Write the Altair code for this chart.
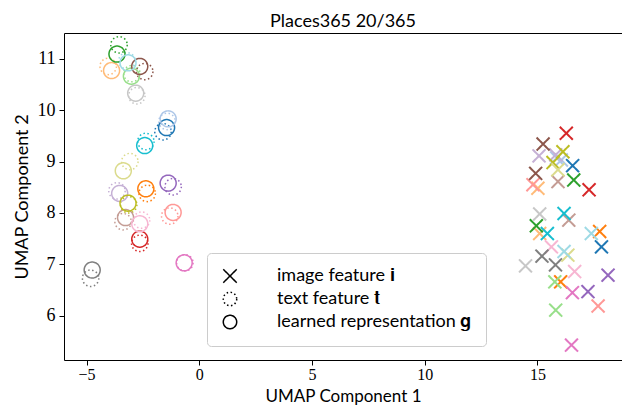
import altair as alt
import pandas as pd

colors = ["#1f77b4", "#aec7e8", "#ff7f0e", "#ffbb78", "#2ca02c", "#98df8a",
          "#d62728", "#ff9896", "#9467bd", "#c5b0d5", "#8c564b", "#c49c94",
          "#e377c2", "#f7b6d2", "#7f7f7f", "#c7c7c7", "#bcbd22", "#dbdb8d",
          "#17becf", "#9edae5"]
classes = [f"class{i}" for i in range(20)]

img_a_x = [16.56, 16.06, 17.76, 15.02, 16.61, 15.77, 16.28, 14.80, 18.13, 15.07,
           15.25, 15.91, 16.55, 15.62, 15.20, 15.10, 16.13, 15.91, 16.18, 17.39]
img_a_y = [8.92, 9.03, 7.64, 8.48, 8.64, 6.66, 9.55, 8.55, 6.79, 9.11,
           9.34, 8.61, 6.45, 7.34, 7.16, 7.98, 9.19, 8.84, 7.99, 7.60]
img_b_x = [17.84, 15.85, 16.03, 15.10, 14.95, 15.81, 17.29, 17.69, 17.24, 15.81,
           14.92, 16.39, 16.51, 16.65, 15.80, 14.47, 15.69, 16.35, 15.44, 16.18]
img_b_y = [7.34, 9.07, 6.66, 7.60, 7.75, 6.11, 8.45, 6.19, 6.47, 9.13,
           8.77, 7.86, 5.43, 6.86, 6.99, 6.97, 8.98, 7.18, 7.60, 7.25]
txt_x = [-1.61, -1.43, -2.31, -4.04, -3.56, -2.99, -2.64, -1.31, -1.16, -3.65,
         -2.42, -3.38, -0.64, -2.56, -4.82, -2.77, -3.13, -3.08, -2.37, -3.21]
txt_y = [9.58, 9.78, 8.38, 10.85, 11.27, 10.71, 7.41, 7.94, 8.51, 8.43,
         10.75, 7.83, 7.03, 7.86, 6.73, 10.28, 8.16, 9.00, 9.39, 10.96]
rep_x = [-1.45, -1.38, -2.37, -3.89, -3.65, -3.01, -2.64, -1.16, -1.38, -3.53,
         -2.64, -3.27, -0.67, -2.64, -4.75, -2.82, -3.16, -3.37, -2.42, -3.16]
rep_y = [9.66, 9.83, 8.47, 10.77, 11.09, 10.66, 7.49, 8.01, 8.58, 8.38,
         10.85, 7.91, 7.03, 7.79, 6.89, 10.33, 8.19, 8.82, 9.31, 10.92]

types = ["image feature 𝐢", "text feature 𝐭", "learned representation 𝐠"]
x_path = "M-1,-1L1,1M-1,1L1,-1"

rows = []
for i, c in enumerate(classes):
    rows.append({"cls": c, "type": types[0], "x": img_a_x[i], "y": img_a_y[i]})
    rows.append({"cls": c, "type": types[0], "x": img_b_x[i], "y": img_b_y[i]})
for i, c in enumerate(classes):
    rows.append({"cls": c, "type": types[1], "x": txt_x[i], "y": txt_y[i]})
    rows.append({"cls": c, "type": types[2], "x": rep_x[i], "y": rep_y[i]})
df = pd.DataFrame(rows)

legend = alt.Legend(title=None, orient="none", legendX=143, legendY=220)

base = alt.Chart(df).encode(
    x=alt.X("x:Q", scale=alt.Scale(domain=[-6.0, 18.75], nice=False, zero=False),
            axis=alt.Axis(values=[-5, 0, 5, 10, 15], title="UMAP Component 1")),
    y=alt.Y("y:Q", scale=alt.Scale(domain=[5.14, 11.5], nice=False, zero=False),
            axis=alt.Axis(values=[6, 7, 8, 9, 10, 11], title="UMAP Component 2")),
    color=alt.Color("cls:N", scale=alt.Scale(domain=classes, range=colors), legend=None),
    shape=alt.Shape("type:N", scale=alt.Scale(domain=types, range=[x_path, "circle", "circle"]),
                    legend=legend),
    strokeDash=alt.StrokeDash("type:N", scale=alt.Scale(domain=types, range=[[1, 0], [1.5, 2.5], [1, 0]]),
                              legend=legend),
)

img_layer = base.mark_point(filled=False, opacity=1, size=169, strokeWidth=2).transform_filter(
    alt.datum.type == types[0])
txt_layer = base.mark_point(filled=False, opacity=1, size=270, strokeWidth=1.5).transform_filter(
    alt.datum.type == types[1])
rep_layer = base.mark_point(filled=False, opacity=1, size=256, strokeWidth=1.5).transform_filter(
    alt.datum.type == types[2])

chart = alt.layer(img_layer, txt_layer, rep_layer).properties(
    width=558, height=327,
    title=alt.TitleParams("Places365 20/365", font="Lato", fontSize=18, fontWeight="normal",
                          color="black", anchor="middle", offset=2),
    autosize=alt.AutoSizeParams(type="none"),
    padding={"left": 56, "top": 25, "right": 0, "bottom": 46},
).configure_view(
    stroke="black", strokeWidth=1
).configure_axis(
    domain=False, grid=False, ticks=True, tickColor="black", tickSize=5, tickWidth=1,
    labelFont="Liberation Serif", labelFontSize=18, labelColor="black",
    titleFont="Lato", titleFontSize=18, titleFontWeight="normal", titleColor="black",
).configure_axisX(
    titlePadding=6, labelPadding=1, labelFontSize=16, titleFontSize=17
).configure_axisY(
    titlePadding=6, labelPadding=4
).configure_legend(
    fillColor="white", strokeColor="#cccccc", cornerRadius=4, padding=14,
    symbolStrokeColor="black", symbolFillColor="transparent", symbolSize=180,
    symbolStrokeWidth=1.5, labelFont="Lato", labelFontSize=18, labelColor="black",
    labelOffset=38, rowPadding=3, labelLimit=400,
)

chart.save("out.html", embed_options={"renderer": "svg", "actions": False})
